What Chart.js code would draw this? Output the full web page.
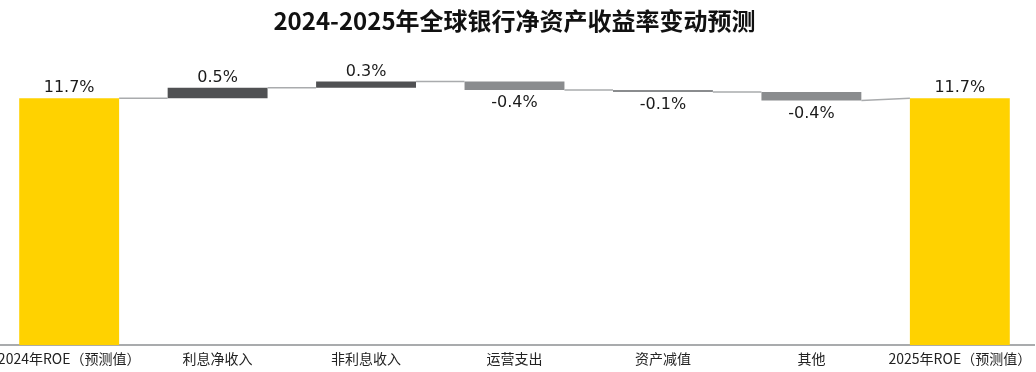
<!DOCTYPE html>
<html>
<head>
<meta charset="utf-8">
<script src="https://cdn.jsdelivr.net/npm/chart.js@4/dist/chart.umd.min.js"></script>
<style>
  html, body { margin: 0; padding: 0; background: #fff; overflow: hidden; }
  #wrap { position: absolute; left: -7px; top: 0; width: 1043px; height: 372px; }
</style>
</head>
<body>
<div id="wrap"><canvas id="roeChart"></canvas></div>
<script>
// 数据
const categories = ["2024年ROE（预测值）", "利息净收入", "非利息收入", "运营支出", "资产减值", "其他", "2025年ROE（预测值）"];
const startRoe = 11.7;
const changes = [0.5, 0.3, -0.4, -0.1, -0.4];
const endRoe = 11.7;

const YELLOW = "#FFD200";
const UP = "#505153";
const DOWN = "#8A8C8E";

// 浮动柱区间
const ranges = [[0, startRoe]];
let level = startRoe;
changes.forEach(v => {
  ranges.push([level, level + v]);
  level += v;
});
ranges.push([0, endRoe]);
const values = [startRoe, ...changes, endRoe];

const colors = values.map((v, i) => {
  if (i === 0 || i === values.length - 1) return YELLOW;
  return v >= 0 ? UP : DOWN;
});

const fmt = v => `${v.toFixed(1)}%`;

const waterfallExtras = {
  id: "waterfallExtras",
  afterDatasetsDraw(chart) {
    const { ctx, scales: { y } } = chart;
    const bars = chart.getDatasetMeta(0).data;
    ctx.save();
    // 连接线
    ctx.strokeStyle = "#A9ABAD";
    ctx.lineWidth = 1.5;
    for (let i = 0; i < bars.length - 1; i += 1) {
      const a = bars[i], b = bars[i + 1];
      const yFrom = y.getPixelForValue(ranges[i][1]);
      const yTo = y.getPixelForValue(i + 1 === bars.length - 1 ? ranges[i + 1][1] : ranges[i + 1][0]);
      ctx.beginPath();
      ctx.moveTo(a.x + a.width / 2, yFrom);
      ctx.lineTo(b.x - b.width / 2, yTo);
      ctx.stroke();
    }
    // 数值标签
    ctx.font = "16px 'DejaVu Sans', Verdana, sans-serif";
    ctx.fillStyle = "#1a1a1a";
    ctx.textAlign = "center";
    ctx.textBaseline = "middle";
    bars.forEach((bar, i) => {
      const v = values[i];
      const top = y.getPixelForValue(Math.max(...ranges[i]));
      const bottom = y.getPixelForValue(Math.min(...ranges[i]));
      const ty = v >= 0 ? top - 10 : bottom + 13;
      ctx.fillText(fmt(v), bar.x, ty);
    });
    ctx.restore();
  }
};

new Chart(document.getElementById("roeChart"), {
  type: "bar",
  data: {
    labels: categories,
    datasets: [{
      data: ranges,
      backgroundColor: colors,
      borderWidth: 0,
      categoryPercentage: 1,
      barPercentage: 0.673
    }]
  },
  options: {
    responsive: true,
    maintainAspectRatio: false,
    animation: false,
    layout: { padding: { left: 0, right: 0, top: 0, bottom: 0 } },
    plugins: {
      legend: { display: false },
      tooltip: { enabled: false },
      title: {
        display: true,
        text: "2024-2025年全球银行净资产收益率变动预测",
        color: "#111",
        font: { family: "'Noto Sans CJK SC', sans-serif", size: 24, weight: "bold", lineHeight: 1.2 },
        padding: { top: 6, bottom: 15 }
      }
    },
    scales: {
      x: {
        grid: { display: false, drawTicks: false },
        border: { display: true, color: "#A9ABAD", width: 2 },
        ticks: {
          color: "#222",
          padding: 5,
          maxRotation: 0,
          autoSkip: false,
          font: { family: "'Noto Sans CJK SC', sans-serif", size: 14 }
        }
      },
      y: {
        display: false,
        min: 0,
        max: 14
      }
    }
  },
  plugins: [waterfallExtras]
});
</script>
</body>
</html>
